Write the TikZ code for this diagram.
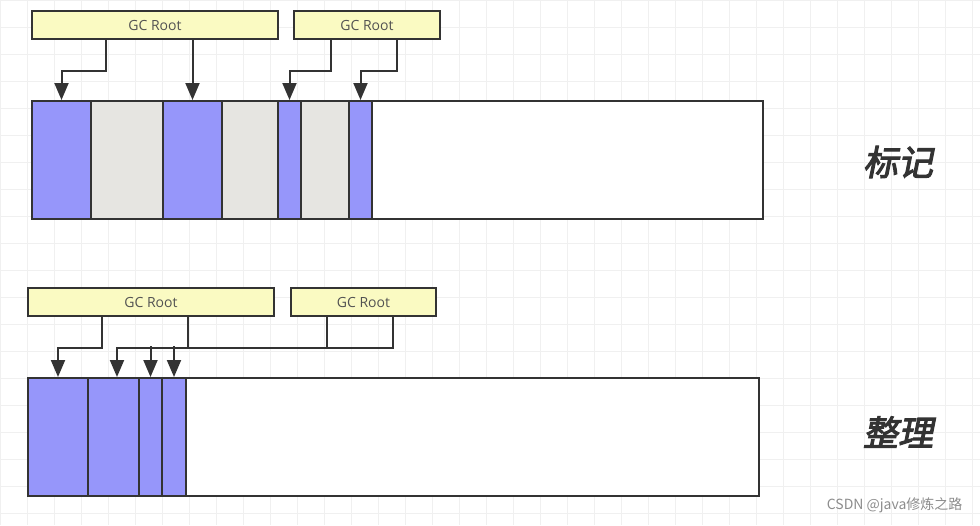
\documentclass[tikz,border=0pt]{standalone}
\usepackage{fontspec}
\setmainfont{Open Sans}
\newfontfamily\cjk{Noto Sans CJK SC}[AutoFakeBold=3,AutoFakeSlant=0.2]
\usetikzlibrary{arrows.meta,positioning}

\definecolor{live}{HTML}{9696FA}
\definecolor{dead}{HTML}{E6E5E1}
\definecolor{rootbg}{HTML}{FAFAC2}
\definecolor{ink}{HTML}{333333}

\begin{document}
\begin{tikzpicture}[
    x=1pt, y=-1pt,
    root/.style={rectangle, draw=ink, line width=2pt, fill=rootbg, minimum height=28pt, anchor=north west, inner sep=0pt, font=\fontsize{14}{16}\selectfont, text=ink!85},
    seg/.style={rectangle, draw=ink, line width=2pt, minimum height=118pt, anchor=north west, inner sep=0pt},
    arrow/.style={draw=ink, line width=2pt, -{Triangle[width=14pt,length=17pt]}},
    wire/.style={draw=ink, line width=2pt},
    title/.style={font=\cjk\bfseries\itshape\fontsize{35}{38}\selectfont, text=ink}
]
\useasboundingbox (0,0) rectangle (980,525);
% grid background
\foreach \g in {0,27,...,980} \draw[black!6, line width=0.8pt] (\g,0) -- (\g,525);
\foreach \g in {0,27,...,525} \draw[black!6, line width=0.8pt] (0,\g) -- (980,\g);

% Mark phase
\node[root, minimum width=246pt] (r1) at (31,10) {GC Root};
\node[root, minimum width=146pt] (r2) at (293,10) {GC Root};
\foreach \a/\b/\c [count=\i] in {31/90/live,90/162/dead,162/221/live,221/277/dead,277/300/live,300/348/dead,348/371/live,371/762/white}
    \node[seg, fill=\c, minimum width=\b-\a] (s\i) at (\a,100) {};
\draw[arrow] ([xshift=75]r1.south west) -- ++(0,31) -| (s1.north);
\draw[arrow] (s3.north |- r1.south) -- (s3.north);
\draw[arrow] ([xshift=38]r2.south west) -- ++(0,31) -| (s5.north);
\draw[arrow] ([xshift=104]r2.south west) -- ++(0,31) -| (s7.north);
\node[title] (mark) at (898,162) {标记};

% Compact phase
\node[root, minimum width=246pt] (q1) at (27,287) {GC Root};
\node[root, minimum width=145pt] (q2) at (290,287) {GC Root};
\foreach \a/\b/\c [count=\i] in {27/87/live,87/138/live,138/161/live,161/185/live,185/758/white}
    \node[seg, fill=\c, minimum width=\b-\a] (t\i) at (\a,377) {};
\coordinate (j) at (0,346);
\draw[arrow] ([xshift=75]q1.south west) -- ++(0,31) -| (t1.north);
\draw[wire] ([xshift=161]q1.south west) -- ++(0,31);
\draw[wire] ([xshift=37]q2.south west) -- ++(0,31);
\draw[arrow] ([xshift=103]q2.south west) -- ++(0,31) -| ([xshift=3.5]t2.north);
\draw[arrow] (t3.north |- j) -- (t3.north);
\draw[arrow] (t4.north |- j) -- (t4.north);
\node[title] (compact) at (898,432) {整理};

\node[anchor=south east, text=black!45, font=\cjk\fontsize{14}{16}\selectfont] (mark2) at (966,516) {CSDN @java修炼之路};
\end{tikzpicture}
\end{document}
